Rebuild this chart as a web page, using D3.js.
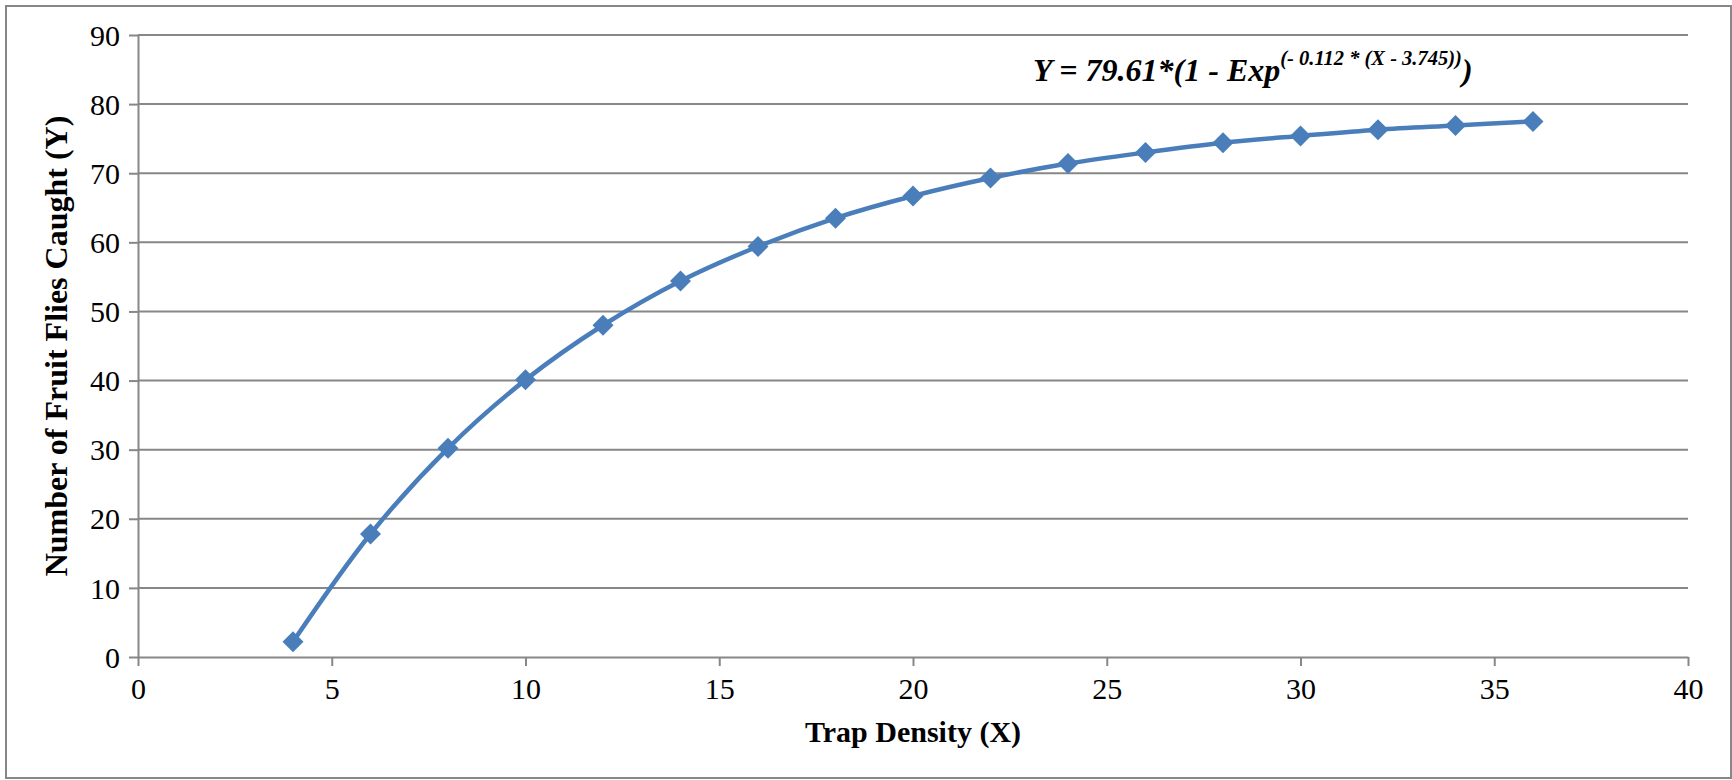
<!DOCTYPE html>
<html>
<head>
<meta charset="utf-8">
<script src="https://cdn.jsdelivr.net/npm/d3@7"></script>
<style>
  body { margin: 0; background: #fff; }
  svg text { font-family: "Liberation Serif", "Times New Roman", serif; fill: #000; }
</style>
</head>
<body>
<div id="chart"></div>
<script>
// data
let trapDensity = [4, 6, 8, 10, 12, 14, 16, 18, 20, 22, 24, 26, 28, 30, 32, 34, 36];
let fliesCaught = [2.2, 17.8, 30.2, 40.1, 48.0, 54.4, 59.4, 63.5, 66.7, 69.3, 71.4, 73.0, 74.4, 75.4, 76.3, 76.9, 77.5];
let xTicks = [0, 5, 10, 15, 20, 25, 30, 35, 40];
let yTicks = [0, 10, 20, 30, 40, 50, 60, 70, 80, 90];

let svgWidth = 1732;
let svgHeight = 780;

let margin = { top: 35, right: 44, bottom: 123, left: 138 };
let width = svgWidth - margin.left - margin.right;
let height = svgHeight - margin.top - margin.bottom;

let lineColor = "#4a7ebb";
let gridColor = "#878787";

let svg = d3.select("#chart")
    .append("svg")
    .attr("width", svgWidth)
    .attr("height", svgHeight);

// outer chart border
svg.append("rect")
    .attr("x", 6)
    .attr("y", 6)
    .attr("width", 1725)
    .attr("height", 772)
    .attr("fill", "none")
    .attr("stroke", gridColor)
    .attr("stroke-width", 2);

let chartGroup = svg.append("g")
    .attr("transform", `translate(${margin.left}, ${margin.top})`);

let xScale = d3.scaleLinear().domain([0, 40]).range([0, width]);
let yScale = d3.scaleLinear().domain([0, 90]).range([height, 0]);

// horizontal gridlines
chartGroup.append("g")
    .selectAll("line")
    .data(yTicks.filter(d => d > 0))
    .enter()
    .append("line")
    .attr("x1", 0)
    .attr("x2", width)
    .attr("y1", d => yScale(d))
    .attr("y2", d => yScale(d))
    .attr("stroke", gridColor)
    .attr("stroke-width", 2);

// axes
let bottomAxis = d3.axisBottom(xScale).tickValues(xTicks).tickSize(9).tickPadding(9).tickSizeOuter(0);
let leftAxis = d3.axisLeft(yScale).tickValues(yTicks).tickSize(9).tickPadding(9).tickSizeOuter(0);

let xAxisG = chartGroup.append("g")
    .attr("transform", `translate(0, ${height})`)
    .call(bottomAxis);

let yAxisG = chartGroup.append("g")
    .call(leftAxis);

[xAxisG, yAxisG].forEach(g => {
    g.selectAll("path, line").attr("stroke", gridColor).attr("stroke-width", 2);
    g.selectAll("text")
        .attr("font-size", 30)
        .attr("font-family", "Liberation Serif, serif")
        .attr("fill", "#000");
});
xAxisG.selectAll("text").attr("dy", "0.8em");
yAxisG.selectAll("text").attr("dy", "0.34em");

// fitted curve through the points
let points = trapDensity.map((x, i) => [x, fliesCaught[i]]);

let line = d3.line()
    .x(d => xScale(d[0]))
    .y(d => yScale(d[1]))
    .curve(d3.curveCatmullRom.alpha(0.5));

chartGroup.append("path")
    .datum(points)
    .attr("d", line)
    .attr("fill", "none")
    .attr("stroke", lineColor)
    .attr("stroke-width", 4.5);

// diamond markers
chartGroup.selectAll(".marker")
    .data(points)
    .enter()
    .append("path")
    .classed("marker", true)
    .attr("transform", d => `translate(${xScale(d[0])}, ${yScale(d[1])})`)
    .attr("d", "M0,-10.5L10.5,0L0,10.5L-10.5,0Z")
    .attr("fill", lineColor);

// axis titles
chartGroup.append("text")
    .attr("x", width / 2)
    .attr("y", height + 85)
    .attr("text-anchor", "middle")
    .attr("font-size", 30)
    .attr("font-weight", "bold")
    .text("Trap Density (X)");

chartGroup.append("text")
    .attr("transform", `translate(${56 - margin.left + 11}, ${height / 2}) rotate(-90)`)
    .attr("text-anchor", "middle")
    .attr("font-size", 32)
    .attr("font-weight", "bold")
    .text("Number of Fruit Flies Caught (Y)");

// equation
let eq = svg.append("text")
    .attr("x", 1033)
    .attr("y", 81)
    .attr("font-size", 32)
    .attr("font-weight", "bold")
    .attr("font-style", "italic");

eq.append("tspan").text("Y = 79.61*(1 - Exp");
eq.append("tspan")
    .attr("font-size", 20.5)
    .attr("dy", -16)
    .text("(- 0.112 * (X - 3.745))");
eq.append("tspan")
    .attr("dy", 16)
    .text(")");
</script>
</body>
</html>
